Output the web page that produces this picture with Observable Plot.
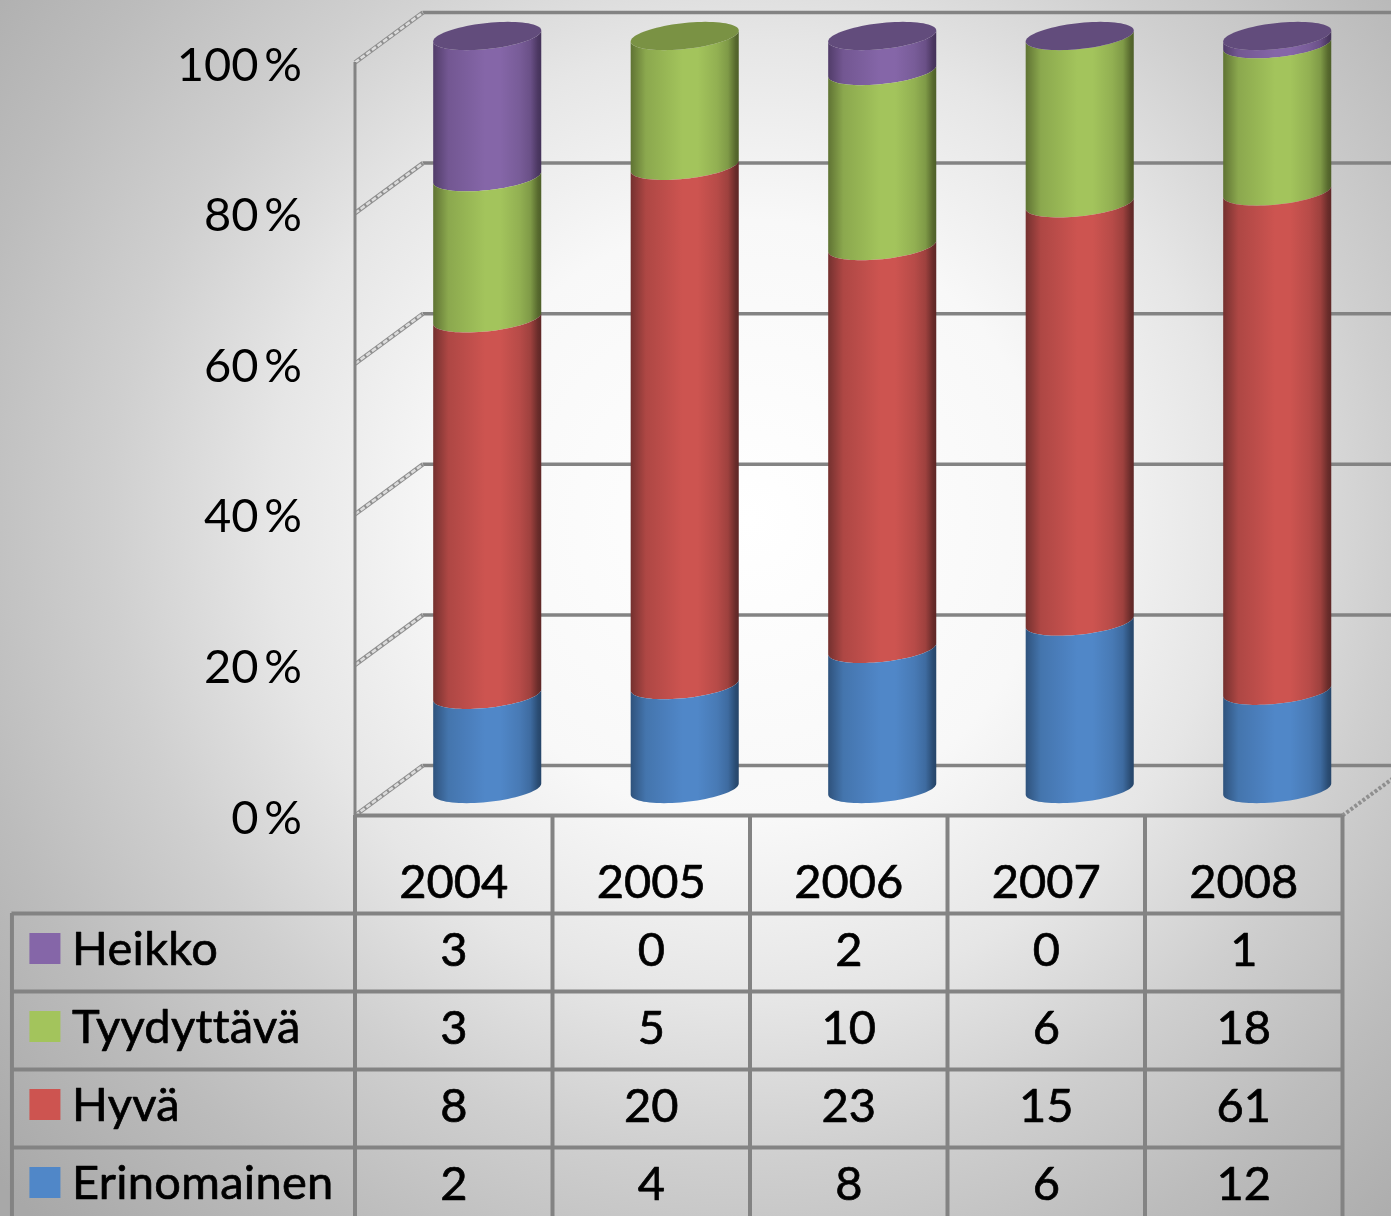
<!DOCTYPE html>
<html>
<head>
<meta charset="utf-8">
<script src="https://cdn.jsdelivr.net/npm/d3@7"></script>
<script src="https://cdn.jsdelivr.net/npm/@observablehq/plot@0.6"></script>
<style>
html,body{margin:0;padding:0;width:1391px;height:1216px;overflow:hidden}
body{position:relative;background:radial-gradient(circle 1000px at 750px 520px,#ffffff 0%,#f8f8f8 30%,#e6e6e6 48%,#cfcfcf 64%,#bcbcbc 80%,#a8a8a8 100%)}
#chart,#table{position:absolute;left:0;filter:blur(0.6px)}
#chart{top:0}#table{top:815px}
svg{background:transparent!important;display:block}
.legendLabel text{letter-spacing:0.3px}
</style>
</head>
<body>
<div id="chart"></div>
<div id="table"></div>
<script>
const years = ["2004", "2005", "2006", "2007", "2008"];
const heikko = [3, 0, 2, 0, 1];
const tyydyttava = [3, 5, 10, 6, 18];
const hyva = [8, 20, 23, 15, 61];
const erinomainen = [2, 4, 8, 6, 12];
const topSeries = ["Heikko", "Tyydyttävä", "Heikko", "Heikko", "Heikko"];
const seriesNames = ["Heikko", "Tyydyttävä", "Hyvä", "Erinomainen"];
const seriesValues = [heikko, tyydyttava, hyva, erinomainen];
const edgeColors = ["#443259", "#4e5f29", "#5e2726", "#264569"];
const midColors = ["#8566a8", "#a3c45c", "#cd5450", "#5087c8"];
const capColors = ["#624c7c", "#7a9244", "#943c3a", "#3a6496"];
const percentTicks = [0, 20, 40, 60, 80, 100];

const FONT = "Lato, 'Open Sans', sans-serif";
const depthX = 0.344, depthY = 6.64, barCenter = 0.672, barRadius = 0.2736, tilt = 0.73, flat = 1.73;
const angles = d3.range(0, 41).map(i => Math.PI * (1 - i / 40));

// cylinder outlines: stack the shares, then trace the front arcs of each boundary
const segments = [], caps = [];
years.forEach((year, i) => {
  const total = d3.sum(seriesValues, s => s[i]);
  let acc = 0;
  for (let s = seriesNames.length - 1; s >= 0; s--) {
    const v = seriesValues[s][i];
    const p0 = acc / total * 100; acc += v;
    const p1 = acc / total * 100;
    if (v > 0) angles.forEach(t => segments.push({
      key: year + seriesNames[s], series: s,
      x: i + barCenter + barRadius * Math.cos(t),
      lo: p0 + tilt * Math.cos(t) - flat * Math.sin(t),
      hi: p1 + tilt * Math.cos(t) - flat * Math.sin(t)
    }));
  }
  angles.forEach(t => caps.push({
    key: year, series: seriesNames.indexOf(topSeries[i]),
    x: i + barCenter + barRadius * Math.cos(t),
    lo: 100 + tilt * Math.cos(t) - flat * Math.sin(t),
    hi: 100 + tilt * Math.cos(t) + flat * Math.sin(t)
  }));
});

const defs = () => {
  const d = d3.create("svg:defs");
  seriesNames.forEach((_, s) => {
    const mix = d3.interpolateRgb(edgeColors[s], midColors[s]);
    const g = d.append("linearGradient").attr("id", "grad" + s).attr("x1", 0).attr("x2", 1).attr("y1", 0).attr("y2", 0);
    [[0, mix(0.2)], [0.04, mix(0.35)], [0.14, mix(0.72)], [0.3, mix(0.85)], [0.48, midColors[s]], [0.62, midColors[s]], [0.8, mix(0.8)], [0.9, mix(0.58)], [0.97, mix(0.1)], [1, edgeColors[s]]]
      .forEach(([o, c]) => g.append("stop").attr("offset", o).attr("stop-color", c));
  });
  return d.node();
};

const GRID = "#838383";
const chart = Plot.plot({
  width: 1391, height: 850,
  marginLeft: 354.5, marginRight: 49, marginTop: 62, marginBottom: 35,
  style: {background: "transparent", fontFamily: FONT},
  x: {domain: [0, 5], axis: null},
  y: {domain: [0, 100], axis: null},
  marks: [
    defs,
    // back wall
    Plot.ruleY(percentTicks, {y: d => d + depthY, x1: depthX, x2: 5 + depthX, stroke: GRID, strokeWidth: 3.5}),
    // left wall hatched depth lines, and the floor's right edge
    Plot.link(percentTicks, {x1: 0, y1: d => d, x2: depthX, y2: d => d + depthY, stroke: "#8f8f8f", strokeWidth: 4.5}),
    Plot.link(percentTicks, {x1: 0, y1: d => d, x2: depthX, y2: d => d + depthY, stroke: "#dcdcdc", strokeWidth: 2.5, strokeDasharray: "5 2"}),
    Plot.link([0], {x1: 5, y1: 0, x2: 5 + depthX, y2: depthY, stroke: "#8f8f8f", strokeWidth: 4, strokeDasharray: "3 2"}),
    // axis frame
    Plot.ruleX([0], {y1: 0, y2: 100, stroke: GRID, strokeWidth: 3}),
    Plot.ruleY([0], {x1: 0, x2: 5, stroke: GRID, strokeWidth: 4}),
    Plot.axisY({ticks: percentTicks, tickFormat: d => d + "\u2009%", tickSize: 0, tickPadding: 53, fontSize: 47, fill: "#000", stroke: "#000", strokeWidth: 0.7, dy: 3, label: null}),
    // cylinders
    ...seriesNames.map((_, s) => Plot.area(segments.filter(d => d.series === s), {
      x1: "x", y1: "lo", y2: "hi", z: "key", dy: -26, fill: `url(#grad${s})`
    })),
    ...seriesNames.map((_, s) => Plot.area(caps.filter(d => d.series === s), {
      x1: "x", y1: "lo", y2: "hi", z: "key", dy: -26, fill: capColors[s]
    }))
  ]
});
document.getElementById("chart").append(chart);

// data table
const rowIndex = name => seriesNames.indexOf(name) + 1;
const cells = seriesNames.flatMap((name, s) => years.map((year, i) => ({name, i, v: seriesValues[s][i]})));
const gridRows = [1, 2, 3, 4];
const table = Plot.plot({
  width: 1391, height: 401,
  marginLeft: 354.5, marginRight: 49, marginTop: 20, marginBottom: 0,
  style: {background: "transparent", fontFamily: FONT},
  x: {domain: [0, 5], axis: null},
  y: {domain: [0, 5], range: [20, 410], axis: null},
  marks: [
    Plot.ruleY(gridRows, {x1: -1.737, x2: 5, stroke: GRID, strokeWidth: 4}),
    Plot.ruleX(d3.range(0, 6), {y1: -0.256, y2: 5, stroke: GRID, strokeWidth: 4}),
    Plot.ruleX([-1.737], {y1: 1, y2: 5, stroke: GRID, strokeWidth: 4}),
    Plot.text(years, {x: (d, i) => i + 0.5, y: 0.5, text: d => d, fontSize: 47, fill: "#000", stroke: "#000", strokeWidth: 0.7, dy: 8}),
    Plot.text(cells, {x: d => d.i + 0.5, y: d => rowIndex(d.name) + 0.5, text: d => String(d.v), fontSize: 47, fill: "#000", stroke: "#000", strokeWidth: 0.7, dy: -2}),
    Plot.dot(seriesNames, {x: -1.57, y: d => rowIndex(d) + 0.5, symbol: "square", r: 17.5, fill: (d, i) => midColors[i], stroke: "none", dy: -4}),
    Plot.text(seriesNames, {x: -1.433, y: d => rowIndex(d) + 0.5, text: d => d, textAnchor: "start", fontSize: 47, fill: "#000", stroke: "#000", strokeWidth: 0.7, dy: -3, className: "legendLabel"})
  ]
});
document.getElementById("table").append(table);
</script>
</body>
</html>
